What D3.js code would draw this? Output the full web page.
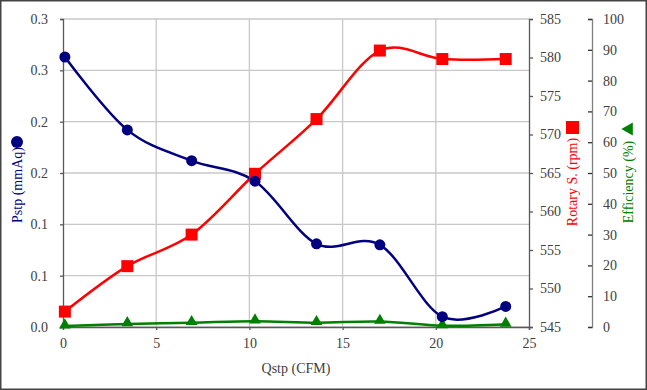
<!DOCTYPE html>
<html>
<head>
<meta charset="utf-8">
<script src="https://cdn.jsdelivr.net/npm/d3@7"></script>
<style>
    body { margin: 0; background: #fff; }
    svg text { font-family: "Liberation Serif", "Times New Roman", serif; }
</style>
</head>
<body>
<div id="chart"></div>
<script>
'use strict';

// flow rate (CFM), shared by all three series
var qstp = [0.1, 3.45, 6.9, 10.3, 13.6, 17.0, 20.35, 23.75];
var pstp = [0.263, 0.192, 0.162, 0.142, 0.081, 0.080, 0.010, 0.020];
var rotary = [547.0, 552.9, 557.0, 564.9, 572.0, 580.9, 579.8, 579.8];
var efficiency = [0.3, 1.0, 1.4, 1.9, 1.4, 1.8, 0.4, 0.9];

var xTicks = [0, 5, 10, 15, 20, 25];
var pstpTicks = [0, 0.05, 0.1, 0.15, 0.2, 0.25, 0.3];
var pstpTickLabels = ["0.0", "0.1", "0.1", "0.2", "0.2", "0.3", "0.3"];
var rotaryTicks = [545, 550, 555, 560, 565, 570, 575, 580, 585];
var effTicks = [0, 10, 20, 30, 40, 50, 60, 70, 80, 90, 100];

var W = 647, H = 390;
var plot = {left: 63, right: 529, top: 19, bottom: 327};
var effAxisX = 592;
var tickColor = "#404040";

var x = d3.scaleLinear().domain([0, 25]).range([plot.left, plot.right]);
var yP = d3.scaleLinear().domain([0, 0.3]).range([plot.bottom, plot.top]);
var yR = d3.scaleLinear().domain([545, 585]).range([plot.bottom, plot.top]);
var yE = d3.scaleLinear().domain([0, 100]).range([plot.bottom, plot.top]);

var svg = d3.select("#chart").append("svg")
    .attr("width", W)
    .attr("height", H);

svg.append("rect")
    .attr("x", 0.75).attr("y", 0.75)
    .attr("width", W - 1.5).attr("height", H - 1.5)
    .attr("fill", "#fff")
    .attr("stroke", "#444")
    .attr("stroke-width", 1.5);

// grid
svg.append("g").selectAll("line")
    .data(pstpTicks)
    .join("line")
    .attr("x1", plot.left).attr("x2", plot.right)
    .attr("y1", function(d) { return yP(d); })
    .attr("y2", function(d) { return yP(d); })
    .attr("stroke", "#c8c8c8")
    .attr("stroke-width", 1.3);

svg.append("g").selectAll("line")
    .data(xTicks.slice(1, -1))
    .join("line")
    .attr("x1", function(d) { return x(d); })
    .attr("x2", function(d) { return x(d); })
    .attr("y1", plot.top).attr("y2", plot.bottom)
    .attr("stroke", "#c8c8c8")
    .attr("stroke-width", 1.3);

function styleAxis(g, lineColor) {
    g.select(".domain").attr("stroke", lineColor).attr("stroke-width", 1.3);
    g.selectAll(".tick line").attr("stroke", lineColor).attr("stroke-width", 1.3);
    g.selectAll(".tick text")
        .attr("fill", tickColor)
        .style("font-size", "14px")
        .style("font-family", "'Liberation Serif', serif");
}

// left axis
svg.append("g")
    .attr("transform", "translate(" + plot.left + ",0)")
    .call(d3.axisLeft(yP).tickValues(pstpTicks).tickSizeOuter(0).tickSize(3).tickPadding(12)
        .tickFormat(function(d, i) { return pstpTickLabels[i]; }))
    .call(styleAxis, "#595959");

// bottom axis
svg.append("g")
    .attr("transform", "translate(0," + plot.bottom + ")")
    .call(d3.axisBottom(x).tickValues(xTicks).tickSizeOuter(0).tickSize(3).tickPadding(8))
    .call(styleAxis, "#595959");

// rotary speed axis
svg.append("g")
    .attr("transform", "translate(" + plot.right + ",0)")
    .call(d3.axisRight(yR).tickValues(rotaryTicks).tickSizeOuter(0).tickSize(4).tickPadding(7))
    .call(styleAxis, "#595959");

// efficiency axis, ticks pointing inward
var effAxis = svg.append("g")
    .attr("transform", "translate(" + effAxisX + ",0)")
    .call(d3.axisRight(yE).tickValues(effTicks).tickSizeOuter(0).tickSize(-4).tickPadding(11))
    .call(styleAxis, "#808080");
effAxis.selectAll(".tick line").attr("stroke", "#333");

// axis titles
svg.append("text")
    .attr("x", x(12.5)).attr("y", 373)
    .attr("text-anchor", "middle")
    .attr("fill", tickColor)
    .style("font-size", "14px")
    .text("Qstp (CFM)");

svg.append("circle")
    .attr("cx", 17).attr("cy", 142).attr("r", 6)
    .attr("fill", "#000080");
svg.append("text")
    .attr("transform", "translate(22,185) rotate(-90)")
    .attr("text-anchor", "middle")
    .attr("fill", "#000080")
    .style("font-size", "14px")
    .text("Pstp (mmAq)");

svg.append("rect")
    .attr("x", 566).attr("y", 121).attr("width", 13).attr("height", 13)
    .attr("fill", "#ff0000");
svg.append("text")
    .attr("transform", "translate(577,182) rotate(-90)")
    .attr("text-anchor", "middle")
    .attr("fill", "#ff0000")
    .style("font-size", "14px")
    .text("Rotary S. (rpm)");

svg.append("path")
    .attr("d", d3.symbol().type(d3.symbolTriangle).size(75)())
    .attr("transform", "translate(629,129) rotate(-90)")
    .attr("fill", "#008000");
svg.append("text")
    .attr("transform", "translate(633,182) rotate(-90)")
    .attr("text-anchor", "middle")
    .attr("fill", "#008000")
    .style("font-size", "14px")
    .text("Efficiency (%)");

// series
function drawLine(values, yScale, color) {
    var pts = qstp.map(function(q, i) { return [x(q), yScale(values[i])]; });
    svg.append("path")
        .datum(pts)
        .attr("fill", "none")
        .attr("stroke", color)
        .attr("stroke-width", 2.5)
        .attr("d", d3.line().curve(d3.curveCardinal.tension(0)));
    return pts;
}

var effPts = drawLine(efficiency, yE, "#008000");
var rotPts = drawLine(rotary, yR, "#ff0000");
var pPts = drawLine(pstp, yP, "#000080");

svg.append("g").selectAll("path")
    .data(effPts)
    .join("path")
    .attr("d", d3.symbol().type(d3.symbolTriangle).size(60)())
    .attr("transform", function(d) { return "translate(" + d[0] + "," + (d[1] - 1) + ")"; })
    .attr("fill", "#008000");

svg.append("g").selectAll("rect")
    .data(rotPts)
    .join("rect")
    .attr("x", function(d) { return d[0] - 6; })
    .attr("y", function(d) { return d[1] - 6; })
    .attr("width", 12).attr("height", 12)
    .attr("fill", "#ff0000");

svg.append("g").selectAll("circle")
    .data(pPts)
    .join("circle")
    .attr("cx", function(d) { return d[0]; })
    .attr("cy", function(d) { return d[1]; })
    .attr("r", 5.5)
    .attr("fill", "#000080");
</script>
</body>
</html>
